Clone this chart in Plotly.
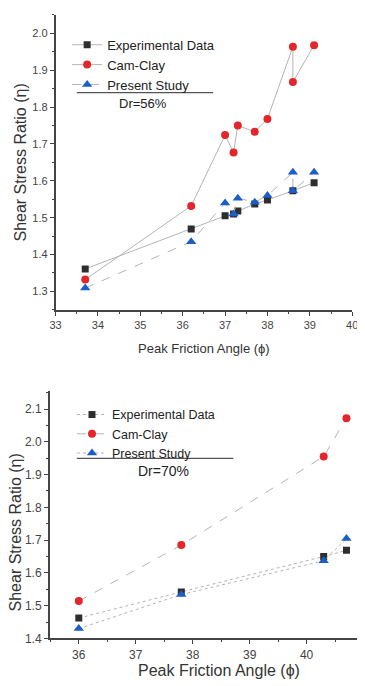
import plotly.graph_objects as go

# ---- Data: Dr = 56% ----
x56_exp = [33.7, 36.2, 37.0, 37.2, 37.3, 37.7, 38.0, 38.6, 39.1]
y56_exp = [1.361, 1.469, 1.505, 1.510, 1.518, 1.537, 1.548, 1.573, 1.595]
x56_cam = [33.7, 36.2, 37.0, 37.2, 37.3, 37.7, 38.0, 38.6, 38.6, 39.1]
y56_cam = [1.332, 1.532, 1.724, 1.677, 1.750, 1.733, 1.768, 1.964, 1.868, 1.968]
x56_ps = [33.7, 36.2, 37.0, 37.2, 37.3, 37.7, 38.0, 38.6, 38.6, 39.1]
y56_ps = [1.309, 1.435, 1.540, 1.510, 1.553, 1.542, 1.560, 1.623, 1.573, 1.623]

# ---- Data: Dr = 70% ----
x70 = [36.0, 37.8, 40.3, 40.7]
y70_exp = [1.462, 1.542, 1.650, 1.669]
y70_cam = [1.514, 1.685, 1.955, 2.072]
y70_ps = [1.430, 1.534, 1.637, 1.705]

names = ["Experimental Data", "Cam-Clay", "Present Study"]
colors = ["#2e2e2e", "#e3262b", "#1a5fc9"]
symbols = ["square", "circle", "triangle-up"]
sizes = [7, 8, 9]
LINE = "#b4b4b4"
FONT = "Liberation Sans, Arial, sans-serif"

fig = go.Figure()

top = [(x56_exp, y56_exp, "solid"), (x56_cam, y56_cam, "solid"), (x56_ps, y56_ps, "dash")]
for i, (xs, ys, dash) in enumerate(top):
    fig.add_trace(go.Scatter(
        x=xs, y=ys, mode="lines+markers", name=names[i],
        line=dict(color=LINE, width=1, dash=dash),
        marker=dict(symbol=symbols[i], size=sizes[i], color=colors[i]),
        xaxis="x", yaxis="y", legend="legend"))

bot = [(y70_exp, "dot"), (y70_cam, "dash"), (y70_ps, "dot")]
for i, (ys, dash) in enumerate(bot):
    fig.add_trace(go.Scatter(
        x=x70, y=ys, mode="lines+markers", name=names[i],
        line=dict(color=LINE, width=1, dash=dash),
        marker=dict(symbol=symbols[i], size=sizes[i], color=colors[i]),
        xaxis="x2", yaxis="y2", legend="legend2"))

# page body has an 8px margin: lay out in a 357x678 figure
OFF = 8
W, H = 365 - OFF, 686 - OFF
def px(x):
    return (x - OFF) / W
def py(y):
    return 1 - (y - OFF) / H

axis_common = dict(
    showline=True, linecolor="#444", linewidth=1.5, mirror=False,
    ticks="outside", ticklen=4, tickwidth=1, tickcolor="#444",
    showgrid=False, zeroline=False,
)
minor_x = dict(dtick=0.5, ticks="outside", ticklen=2, tickcolor="#444")
minor_y = dict(dtick=0.05, ticks="outside", ticklen=2, tickcolor="#444")

fig.update_layout(
    width=W, height=H,
    margin=dict(l=0, r=0, t=0, b=0),
    paper_bgcolor="white", plot_bgcolor="white",
    font=dict(family=FONT, color="#333"),
    xaxis=dict(domain=[px(51), px(358)], range=[33, 40], dtick=1, anchor="y", minor=minor_x,
               tickfont=dict(family=FONT, size=11, color="#444"),
               title=dict(text="Peak Friction Angle (\u03d5)", font=dict(family=FONT, size=13, color="#333"), standoff=14),
               **axis_common),
    yaxis=dict(domain=[py(313), py(15)], range=[1.25, 2.05], dtick=0.1, tickformat=".1f", anchor="x", minor=minor_y,
               tickfont=dict(family=FONT, size=11, color="#444"),
               title=dict(text="Shear Stress Ratio (\u03b7)", font=dict(family=FONT, size=16, color="#333"), standoff=2),
               **axis_common),
    xaxis2=dict(domain=[px(45), 1.0], range=[35.49, 40.92], dtick=1, anchor="y2", minor=minor_x,
                tickfont=dict(family=FONT, size=12, color="#444"),
                **axis_common),
    yaxis2=dict(domain=[py(645), py(395)], range=[1.4, 2.155], dtick=0.1, tickformat=".1f", anchor="x2", minor=minor_y,
                tickfont=dict(family=FONT, size=12, color="#444"),
                **axis_common),
    legend=dict(x=px(63), y=py(30), xanchor="left", yanchor="top",
                bgcolor="rgba(0,0,0,0)", font=dict(family=FONT, size=13, color="#222"),
                itemwidth=30, tracegroupgap=0),
    legend2=dict(x=px(68), y=py(404), xanchor="left", yanchor="top",
                 bgcolor="rgba(0,0,0,0)", font=dict(family=FONT, size=12.5, color="#222"),
                 itemwidth=30, tracegroupgap=0),
    showlegend=True,
)

# bottom-panel axis titles (panel is cropped on the right in the original)
fig.add_annotation(text="Peak Friction Angle (\u03d5)", xref="paper", yref="paper",
                   x=px(220), y=py(677), xanchor="center", yanchor="middle", showarrow=False,
                   font=dict(family=FONT, size=16, color="#333"))
fig.add_annotation(text="Shear Stress Ratio (\u03b7)", xref="paper", yref="paper",
                   x=px(10), y=py(538), xanchor="center", yanchor="middle", textangle=-90,
                   showarrow=False, font=dict(family=FONT, size=16, color="#333"))

# legend separators and density labels
fig.add_shape(type="line", xref="paper", yref="paper",
              x0=px(73), x1=px(214), y0=py(93.5), y1=py(93.5),
              line=dict(color="#555", width=1.2))
fig.add_shape(type="line", xref="paper", yref="paper",
              x0=px(73), x1=px(235), y0=py(463), y1=py(463),
              line=dict(color="#555", width=1.2))
fig.add_annotation(text="Dr=56%", xref="paper", yref="paper", x=px(141), y=py(105),
                   xanchor="center", yanchor="middle",
                   showarrow=False, font=dict(family=FONT, size=13, color="#222"))
fig.add_annotation(text="Dr=70%", xref="paper", yref="paper", x=px(163), y=py(476),
                   xanchor="center", yanchor="middle",
                   showarrow=False, font=dict(family=FONT, size=14, color="#222"))

fig.write_html("out.html")
